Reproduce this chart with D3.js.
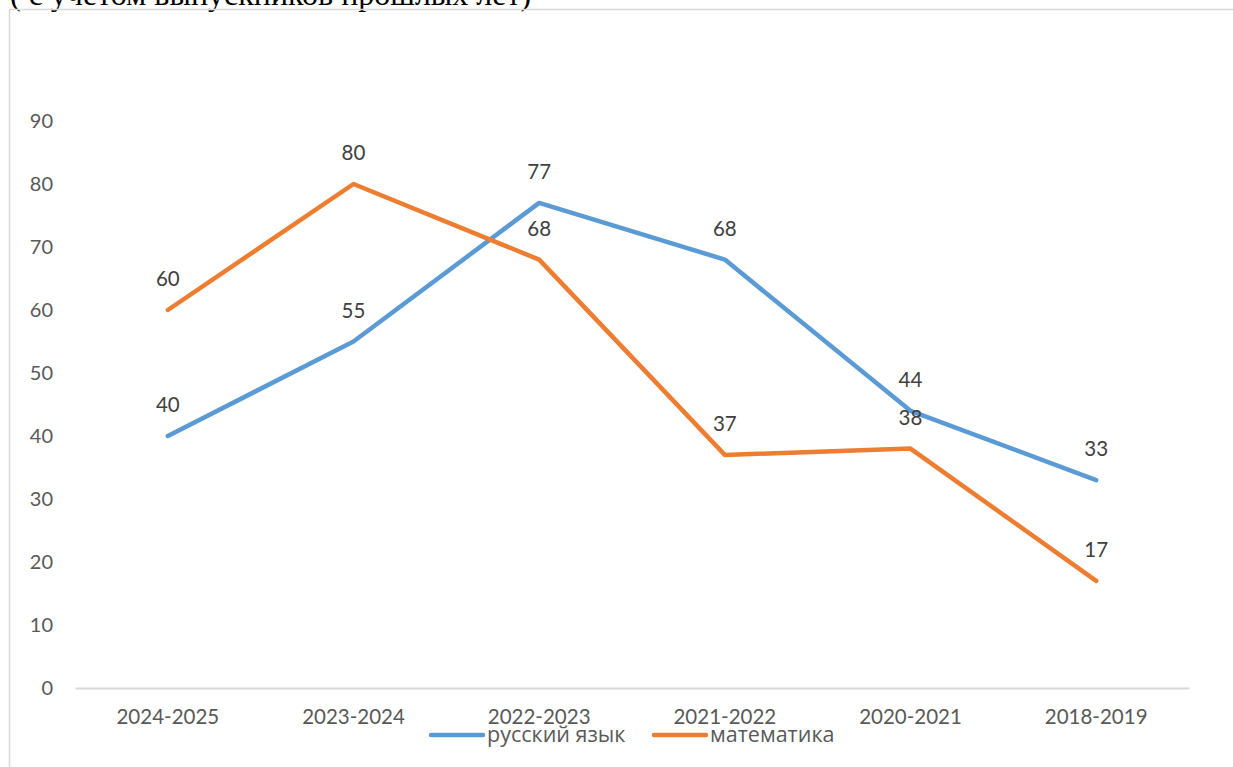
<!DOCTYPE html>
<html>
<head>
<meta charset="utf-8">
<script src="https://cdn.jsdelivr.net/npm/d3@7"></script>
<style>
  html, body { margin: 0; padding: 0; background: #fff; overflow: hidden; }
  svg { display: block; }
</style>
</head>
<body>
<svg id="chart" width="1233" height="767"></svg>
<script>
// данные диаграммы
var years = ["2024-2025", "2023-2024", "2022-2023", "2021-2022", "2020-2021", "2018-2019"];
var russian = [40, 55, 77, 68, 44, 33];
var maths = [60, 80, 68, 37, 38, 17];
var yTicks = [0, 10, 20, 30, 40, 50, 60, 70, 80, 90];
var seriesNames = ["русский язык", "математика"];
var seriesColors = ["#5B9BD5", "#ED7D31"];

var svg = d3.select("#chart");
var font = "Lato, 'Open Sans', sans-serif";

// подпись сверху (обрезана)
svg.append("text")
  .attr("x", 10).attr("y", 5)
  .attr("font-family", "'Liberation Serif', 'Times New Roman', serif")
  .attr("font-size", 32)
  .attr("fill", "#000")
  .text("( с учетом выпускников прошлых лет)");

// рамка области диаграммы
svg.append("rect")
  .attr("x", 9.5).attr("y", 9.5)
  .attr("width", 1240).attr("height", 780)
  .attr("fill", "none")
  .attr("stroke", "#d9d9d9")
  .attr("stroke-width", 1.5);

var x = d3.scaleBand().domain(years).range([75, 1189]);
var y = d3.scaleLinear().domain([0, 90]).range([688, 121]);

// ось Y (только подписи)
var gy = svg.append("g")
  .attr("transform", "translate(53,0)")
  .call(d3.axisLeft(y).tickValues(yTicks).tickSize(0).tickPadding(0));
gy.select(".domain").remove();
gy.selectAll("text")
  .attr("font-family", font).attr("font-size", 20).attr("fill", "#595959");

// ось X
var gx = svg.append("g")
  .attr("transform", "translate(0,688)")
  .call(d3.axisBottom(x).tickSize(0).tickPadding(21));
gx.select(".domain").attr("stroke", "#d9d9d9").attr("stroke-width", 2);
gx.selectAll("text")
  .attr("font-family", font).attr("font-size", 20.5).attr("fill", "#595959");

var line = d3.line()
  .x(function(d, i) { return x(years[i]) + x.bandwidth() / 2; })
  .y(function(d) { return y(d); });

[russian, maths].forEach(function(data, k) {
  svg.append("path")
    .datum(data)
    .attr("d", line)
    .attr("fill", "none")
    .attr("stroke", seriesColors[k])
    .attr("stroke-width", 4.5)
    .attr("stroke-linecap", "round")
    .attr("stroke-linejoin", "round");
});

// подписи данных
[russian, maths].forEach(function(data) {
  svg.append("g").selectAll("text")
    .data(data)
    .enter().append("text")
    .attr("x", function(d, i) { return x(years[i]) + x.bandwidth() / 2; })
    .attr("y", function(d) { return y(d) - 24; })
    .attr("text-anchor", "middle")
    .attr("font-family", font).attr("font-size", 20.5).attr("fill", "#404040")
    .text(function(d) { return d; });
});

// легенда
var legendX = [431, 654];
seriesNames.forEach(function(name, k) {
  var g = svg.append("g").attr("transform", "translate(" + legendX[k] + ",735)");
  g.append("line")
    .attr("x1", 0).attr("x2", 52)
    .attr("stroke", seriesColors[k])
    .attr("stroke-width", 4.5)
    .attr("stroke-linecap", "round");
  g.append("text")
    .attr("x", 56).attr("y", 7)
    .attr("font-family", "'Open Sans', sans-serif").attr("font-size", 21.5).attr("fill", "#595959")
    .text(name);
});
</script>
</body>
</html>
